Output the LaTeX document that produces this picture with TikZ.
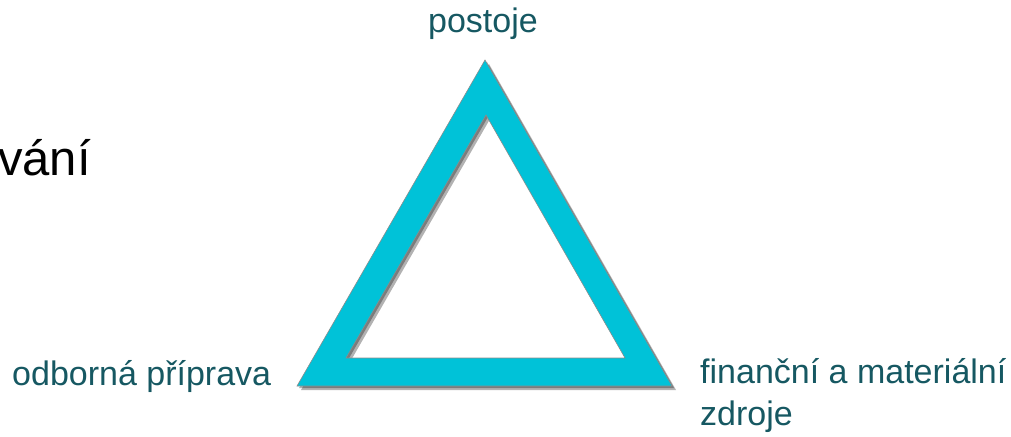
\documentclass[tikz,border=0pt]{standalone}
\usepackage{fontspec}
\setmainfont{Liberation Sans}
\definecolor{ringcyan}{RGB}{0,194,216}
\definecolor{labelteal}{RGB}{22,88,98}
\begin{document}
\begin{tikzpicture}[
    x=1pt, y=-1pt,
    lbl/.style={
        text=labelteal,
        font=\fontsize{34}{42}\selectfont,
        inner sep=0pt,
        align=left
    },
    ring/.style={
        fill=ringcyan,
        draw=black!45,
        line width=0.6pt,
        even odd rule
    },
    ringshadow/.style={
        fill=black,
        fill opacity=0.3,
        even odd rule
    }
]
\useasboundingbox (0,0) rectangle (1011,436);

% corners of the ring
\coordinate (otop) at (485,60);
\coordinate (obl) at (297,386);
\coordinate (obr) at (672,386);
\coordinate (itop) at (486,115);
\coordinate (ibl) at (346,358);
\coordinate (ibr) at (625,358);

% shadow (two soft layers), then the ring itself
\foreach \d in {2,4}{
  \path[ringshadow, transform canvas={shift={(\d pt,-\d pt)}}]
      (otop) -- (obl) -- (obr) -- cycle
      (itop) -- (ibl) -- (ibr) -- cycle;
}
\path[ring] (otop) -- (obl) -- (obr) -- cycle
            (itop) -- (ibl) -- (ibr) -- cycle;

% labels at the corners
\node[lbl, anchor=base] (postoje) at (483,33) {postoje};
\node[lbl, anchor=base west] (priprava) at (12,385) {odborná příprava};
\node[lbl, anchor=base west] (zdroje) at (700,425) {finanční a materiální\\zdroje};

% cut-off title text
\node[font=\fontsize{49}{58}\selectfont, anchor=base west, inner sep=0pt] (vani) at (-2,175) {vání};

\end{tikzpicture}
\end{document}
